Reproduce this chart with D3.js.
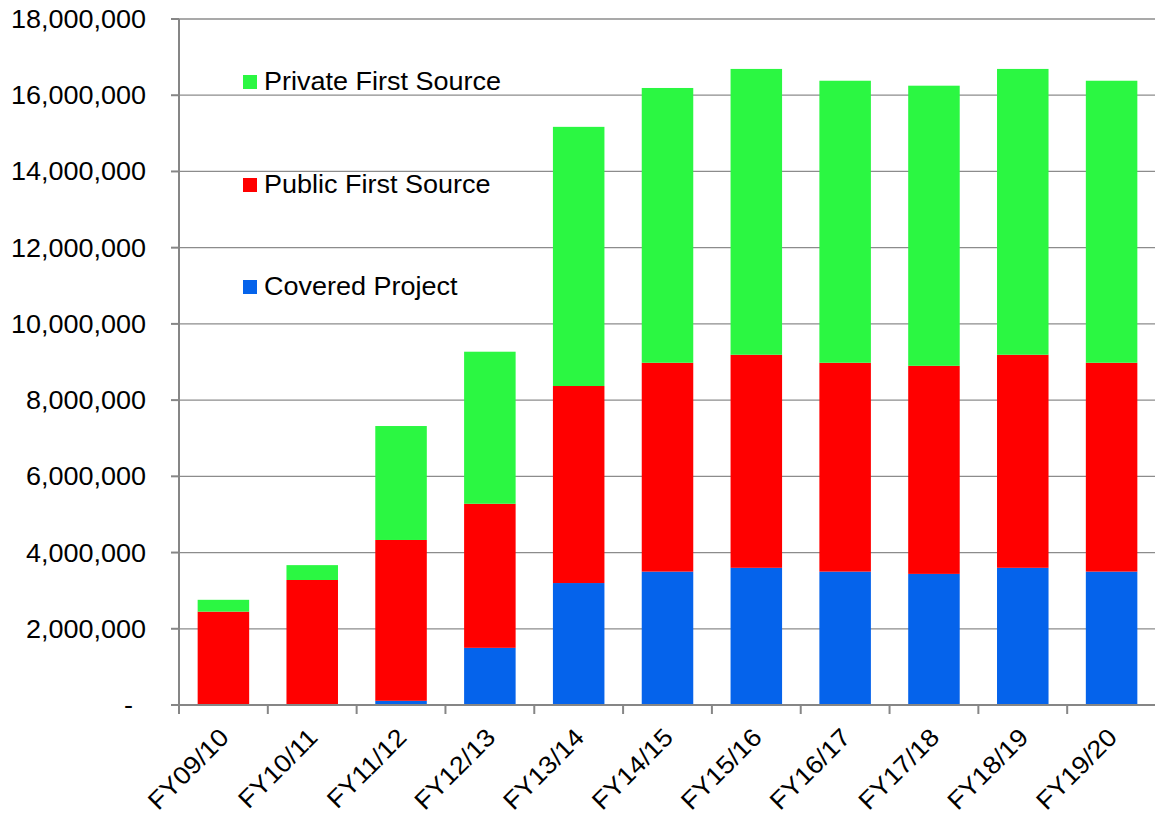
<!DOCTYPE html>
<html><head><meta charset="utf-8">
<script src="https://cdn.jsdelivr.net/npm/d3@7"></script>
<style>body{margin:0;background:#fff}svg{display:block}text{font-family:"Liberation Sans",Arial,sans-serif}</style>
</head><body><svg id="c" width="1155" height="814"></svg>
<script>
const categories = ["FY09/10","FY10/11","FY11/12","FY12/13","FY13/14","FY14/15","FY15/16","FY16/17","FY17/18","FY18/19","FY19/20"];
const covered = [0, 0, 110000, 1500000, 3200000, 3500000, 3600000, 3500000, 3440000, 3600000, 3500000];
const publicFS = [2450000, 3280000, 4220000, 3780000, 5170000, 5480000, 5590000, 5480000, 5460000, 5590000, 5480000];
const privateFS = [310000, 390000, 2990000, 3990000, 6800000, 7210000, 7500000, 7400000, 7350000, 7500000, 7400000];
const yTicks = [0,2000000,4000000,6000000,8000000,10000000,12000000,14000000,16000000,18000000];
const seriesNames = ["Covered Project","Public First Source","Private First Source"];
const colors = ["#0563EB","#FF0000","#2BF742"];

const svg = d3.select("#c");
const FS = 25, SX = 1.08;
const x = d3.scaleBand().domain(categories).range([179,1156]).paddingInner(0.42).paddingOuter(0.21);
const y = d3.scaleLinear().domain([0,18000000]).range([705,19]);

// gridlines
svg.append("g").selectAll("line").data(yTicks.slice(1)).join("line")
  .attr("x1",179).attr("x2",1155).attr("y1",d=>y(d)).attr("y2",d=>y(d))
  .attr("stroke","#8c8c8c").attr("stroke-width",1.3);

const rows = categories.map((c,i)=>({cat:c, covered:covered[i], pub:publicFS[i], priv:privateFS[i]}));
const stack = d3.stack().keys(["covered","pub","priv"])(rows);
svg.append("g").selectAll("g").data(stack).join("g").attr("fill",(d,i)=>colors[i])
  .selectAll("rect").data(d=>d).join("rect")
  .attr("x",d=>x(d.data.cat)).attr("width",x.bandwidth())
  .attr("y",d=>y(d[1])).attr("height",d=>Math.max(0,y(d[0])-y(d[1])));

// legend
const legendBase = [295,193,90];
const lg = svg.append("g");
seriesNames.forEach((n,i)=>{
  lg.append("rect").attr("x",243).attr("y",legendBase[i]-15).attr("width",14).attr("height",14).attr("fill",colors[i]);
  lg.append("text").attr("transform",`translate(264,${legendBase[i]}) scale(${SX},1)`)
    .attr("font-size",FS).attr("fill","#000").text(n);
});

// y axis
const ya = svg.append("g");
ya.append("line").attr("x1",179).attr("x2",179).attr("y1",19).attr("y2",713).attr("stroke","#868686").attr("stroke-width",2);
ya.selectAll("line.t").data(yTicks).join("line").attr("class","t")
  .attr("x1",171).attr("x2",179).attr("y1",d=>y(d)).attr("y2",d=>y(d)).attr("stroke","#868686").attr("stroke-width",2);
const fmt = d3.format(",");
ya.selectAll("text").data(yTicks).join("text")
  .attr("transform",d=>`translate(${d===0?133:146},${y(d)+9}) scale(${SX},1)`)
  .attr("text-anchor","end").attr("font-size",FS).attr("fill","#000")
  .text(d=>d===0?"-":fmt(d));

// x axis
const xa = svg.append("g");
xa.append("line").attr("x1",179).attr("x2",1155).attr("y1",705).attr("y2",705).attr("stroke","#868686").attr("stroke-width",2);
const bounds = d3.range(categories.length+1).map(i=>179+i*(1156-179)/categories.length);
xa.selectAll("line.t").data(bounds).join("line").attr("class","t")
  .attr("x1",d=>d).attr("x2",d=>d).attr("y1",705).attr("y2",714).attr("stroke","#868686").attr("stroke-width",2);
xa.selectAll("text").data(categories).join("text")
  .attr("transform",d=>`translate(${x(d)+x.bandwidth()/2+7},${739}) rotate(-45) scale(${SX},1)`)
  .attr("text-anchor","end").attr("font-size",FS).attr("fill","#000").text(d=>d);
</script></body></html>
